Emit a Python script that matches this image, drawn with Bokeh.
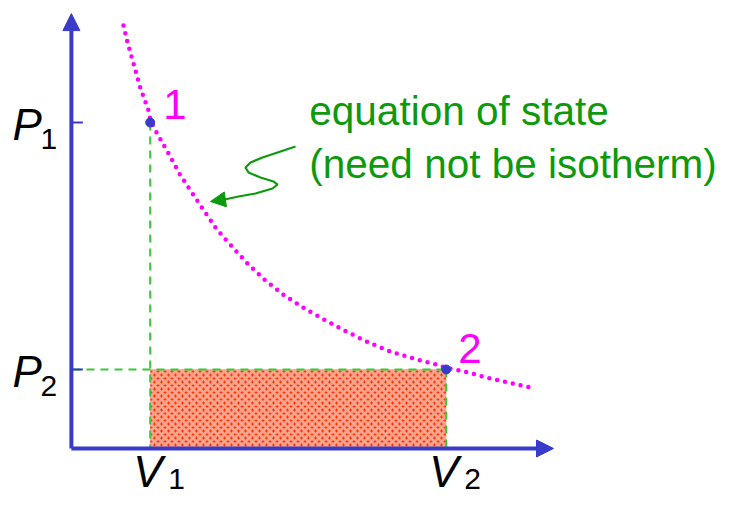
from bokeh.plotting import figure
from bokeh.models import Range1d, Arrow, NormalHead
from bokeh.core.properties import value
from bokeh.embed import file_html
from bokeh.resources import INLINE

# ---- data (arbitrary V, P units) ----
V1, V2 = 2.1, 10.1
P1, P2 = 10.0, 2.4
state_V = [V1, V2]
state_P = [P1, P2]
state_labels = ["1", "2"]

# equation of state curve
curve_V = [1.378, 1.486, 1.649, 1.838, 2.054, 2.108, 2.243, 2.595, 2.919, 3.243,
           3.514, 3.865, 4.162, 4.730, 5.216, 5.730, 6.270, 6.838, 7.405, 8.000,
           8.595, 9.216, 9.838, 10.108, 10.486, 11.297, 12.378]
curve_P = [12.985, 12.462, 11.815, 11.046, 10.369, 10.062, 9.754, 9.046, 8.369, 7.815,
           7.354, 6.769, 6.369, 5.662, 5.138, 4.677, 4.277, 3.908, 3.569, 3.231,
           2.954, 2.738, 2.554, 2.440, 2.369, 2.123, 1.846]

# annotation squiggle path
squig_V = [6.027, 5.622, 5.135, 4.811, 4.676, 4.757, 5.081, 5.432, 5.541, 5.405, 4.946, 4.486, 4.108]
squig_P = [9.262, 9.108, 8.923, 8.769, 8.615, 8.462, 8.308, 8.185, 8.092, 7.969, 7.815, 7.723, 7.631]
squig_tip = (3.730, 7.569)

note_lines = ["equation of state", "(need not be isotherm)"]
note_V = 6.40
note_P = [10.369, 8.738]

V_MAX, P_MAX = 13.0, 13.35

BLUE = "#3a3acb"
GREEN_DASH = "#33cc33"
GREEN_TEXT = "#0c9a0c"
MAGENTA = "#ff00ff"
FONT = value("Liberation Sans")

p = figure(width=727, height=496, output_backend="svg", toolbar_location=None,
           x_axis_location=None, y_axis_location=None,
           x_range=Range1d(-1.9459, 17.7027), y_range=Range1d(-1.5077, 13.7538),
           min_border=0, outline_line_color=None)
p.grid.visible = False

# hatched work area
p.quad(left=[V1], right=[V2], bottom=[0], top=[P2],
       fill_color="#ff3300", line_color=None,
       hatch_pattern="diagonal_cross", hatch_color="white", hatch_scale=7,
       hatch_weight=3, hatch_alpha=0.55)

# dashed guide lines
dash = dict(line_color=GREEN_DASH, line_width=2, line_dash="8 6")
p.line([V1, V1], [P1, 0], **dash)
p.line([0, V2], [P2, P2], **dash)
p.line([V2, V2], [P2, 0], **dash)

# axes with arrows
for (xs, ys, xe, ye) in [(-0.03, -0.03, V_MAX, -0.03), (-0.03, -0.03, -0.03, P_MAX)]:
    p.add_layout(Arrow(end=NormalHead(size=17, fill_color=BLUE, line_color=BLUE),
                       x_start=xs, y_start=ys, x_end=xe, y_end=ye,
                       line_color=BLUE, line_width=4))
# ticks on P axis
p.segment(x0=[0, 0], y0=[P1, P2], x1=[0.28, 0.28], y1=[P1, P2], line_color=BLUE, line_width=2)

# equation of state curve
p.line(curve_V, curve_P, line_color=MAGENTA, line_width=4.5, line_dash="0 8", line_cap="round")

# state points
p.scatter(state_V, state_P, size=9, color=BLUE)
p.text(x=state_V, y=state_P, text=state_labels, x_offset=[13, 12], y_offset=[-18, -21],
       text_color=MAGENTA, text_font=FONT, text_font_size="42px",
       text_baseline="alphabetic", text_align="left")

# axis labels
p.text(x=[0, 0], y=[P1, P2], text=["P", "P"], x_offset=-60, y_offset=2,
       text_font=FONT, text_font_style="italic", text_font_size="44px",
       text_baseline="alphabetic", text_align="left", text_color="black")
p.text(x=[0, 0], y=[P1, P2], text=["1", "2"], x_offset=-32, y_offset=17,
       text_font=FONT, text_font_size="30px",
       text_baseline="alphabetic", text_align="left", text_color="black")
p.text(x=[V1, V2], y=[0, 0], text=["V", "V"], x_offset=-17, y_offset=24,
       text_font=FONT, text_font_style="italic", text_font_size="44px",
       text_baseline="alphabetic", text_align="left", text_color="black")
p.text(x=[V1, V2], y=[0, 0], text=["1", "2"], x_offset=18, y_offset=32,
       text_font=FONT, text_font_size="30px",
       text_baseline="alphabetic", text_align="left", text_color="black")

# annotation
p.text(x=[note_V, note_V], y=note_P, text=note_lines, text_color=GREEN_TEXT,
       text_font=FONT, text_font_size="40.5px", text_baseline="alphabetic", text_align="left")
p.line(squig_V, squig_P, line_color=GREEN_TEXT, line_width=2.2)
p.add_layout(Arrow(end=NormalHead(size=15, fill_color=GREEN_TEXT, line_color=GREEN_TEXT),
                   x_start=squig_V[-1], y_start=squig_P[-1], x_end=squig_tip[0], y_end=squig_tip[1],
                   line_color=GREEN_TEXT, line_width=2.2))

open("out.html", "w").write(file_html(p, INLINE))
